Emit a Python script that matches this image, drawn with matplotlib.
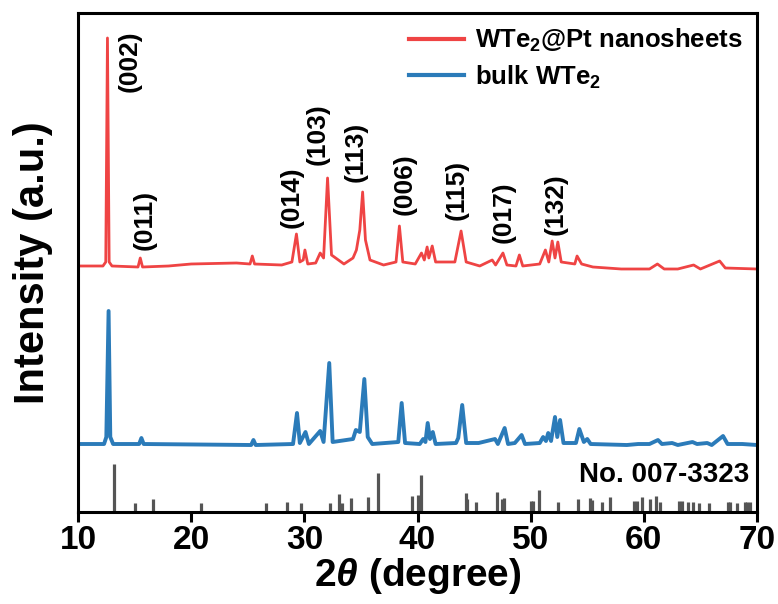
"""XRD patterns of WTe2@Pt nanosheets and bulk WTe2."""
import numpy as np
from matplotlib import pyplot as plt
from matplotlib import font_manager

# Pattern of WTe2@Pt nanosheets: 2theta (degree), intensity (a.u.)
pt_2theta = [10.0, 12.2, 12.45, 12.6, 12.75, 13.0, 15.3, 15.5, 15.7, 18.0,
             20.0, 24.0, 25.2, 25.4, 25.6, 28.0, 28.9, 29.3, 29.6, 29.9,
             30.05, 30.3, 31.0, 31.4, 31.7, 32.05, 32.4, 33.5, 34.3, 34.6,
             34.9, 35.15, 35.4, 35.8, 37.0, 38.1, 38.4, 38.7, 39.8, 40.35,
             40.6, 40.85, 41.0, 41.3, 41.6, 43.3, 43.85, 44.3, 45.5, 46.6,
             46.9, 47.55, 47.9, 48.7, 49.0, 49.3, 50.8, 51.3, 51.6, 51.9,
             52.15, 52.4, 52.7, 53.9, 54.1, 54.5, 55.5, 58.0, 60.5, 61.2,
             61.8, 63.0, 64.4, 65.0, 66.7, 67.2, 70.0]
pt_int = [4, 4, 8, 232, 8, 4, 3, 12, 3, 4,
          6, 7, 6, 14, 6, 5, 8, 36, 8, 10,
          20, 6, 7, 17, 12, 92, 15, 6, 12, 20,
          40, 78, 30, 10, 5, 8, 44, 8, 6, 17,
          10, 23, 12, 24, 8, 8, 39, 8, 4, 10,
          5, 17, 5, 4, 15, 4, 6, 20, 8, 29,
          12, 28, 8, 6, 14, 6, 3, 1, 1, 6,
          1, 1, 5, 1, 9, 2, 1]

# Pattern of bulk WTe2
bulk_2theta = [10.0, 12.3, 12.5, 12.7, 12.85, 13.1, 15.4, 15.6, 15.8, 25.3,
               25.5, 25.7, 29.0, 29.35, 29.6, 30.1, 30.4, 31.4, 31.7, 32.2,
               32.5, 34.3, 34.55, 34.9, 35.3, 35.6, 36.0, 38.3, 38.6, 38.9,
               40.2, 40.5, 40.7, 40.9, 41.1, 41.35, 41.6, 43.4, 43.6, 43.95,
               44.3, 45.4, 46.85, 47.1, 47.7, 48.0, 48.6, 49.2, 49.5, 50.8,
               51.1, 51.35, 51.55, 51.8, 52.15, 52.35, 52.6, 52.9, 54.0, 54.3,
               54.7, 55.0, 55.3, 58.5, 59.5, 60.5, 61.25, 61.6, 62.5, 63.0,
               64.3, 64.7, 65.6, 66.0, 67.0, 67.4, 68.7, 70.0]
bulk_int = [3, 3, 10, 136, 10, 3, 3, 9, 3, 2,
            7, 2, 3, 34, 4, 15, 3, 16, 5, 84,
            5, 8, 17, 15, 68, 10, 3, 5, 44, 4,
            3, 8, 5, 24, 8, 15, 3, 4, 9, 42,
            4, 4, 8, 3, 19, 3, 4, 12, 3, 4,
            10, 6, 14, 6, 30, 10, 27, 4, 4, 18,
            5, 8, 3, 2, 3, 3, 7, 3, 4, 2,
            5, 3, 4, 2, 11, 3, 3, 2]

# Standard card No. 007-3323
ref_2theta = [13.2, 15.0, 16.6, 20.9, 26.6, 28.5, 29.7, 32.3, 33.1, 33.3,
              34.1, 35.6, 36.5, 39.5, 40.05, 40.3, 44.3, 44.4, 45.15, 47.0,
              47.45, 47.65, 50.0, 50.2, 50.7, 52.4, 54.2, 55.2, 55.4, 56.3,
              57.0, 59.1, 59.4, 59.85, 60.55, 61.1, 61.4, 63.1, 63.4, 63.9,
              64.35, 64.9, 65.8, 67.45, 67.6, 68.2, 68.9, 69.1, 69.4]
ref_int = [48, 9, 13, 9, 9, 10, 9, 9, 18, 9,
           14, 15, 39, 16, 17, 37, 19, 13, 10, 20,
           13, 14, 11, 11, 22, 10, 13, 14, 12, 10,
           15, 11, 11, 15, 13, 16, 10, 11, 11, 10,
           10, 9, 9, 10, 10, 9, 10, 10, 10]

# Miller indices of the labelled peaks
hkl_labels = ['(002)', '(011)', '(014)', '(103)', '(113)', '(006)',
              '(115)', '(017)', '(132)']
hkl_2theta = [14.6, 15.9, 28.9, 31.2, 34.5, 38.9, 43.5, 47.6, 52.2]
hkl_bottom = [420, 262, 284, 347, 330, 297, 292, 269, 277]

pt_offset = 242
bulk_offset = 65

# font setup
try:
    font_manager.findfont('Liberation Sans Narrow', fallback_to_default=False)
    tick_family = 'Liberation Sans Narrow'
except Exception:
    tick_family = 'Liberation Sans'

plt.rcParams['font.family'] = ['Liberation Sans', 'DejaVu Sans']
plt.rcParams['font.weight'] = 'bold'
plt.rcParams['mathtext.fontset'] = 'custom'
plt.rcParams['mathtext.rm'] = 'Liberation Sans:bold'
plt.rcParams['mathtext.it'] = 'Liberation Sans:bold:italic'
plt.rcParams['mathtext.bf'] = 'Liberation Sans:bold'

fig = plt.figure(figsize=(7.78, 6.04), dpi=100)
ax = fig.add_axes([0.1003, 0.1523, 0.8727, 0.8262])

ax.plot(pt_2theta, np.array(pt_int) + pt_offset, color='#ef4444',
        linewidth=2.0, label=r'WTe$_2$@Pt nanosheets')
ax.plot(bulk_2theta, np.array(bulk_int) + bulk_offset, color='#2b7bb9',
        linewidth=2.8, label=r'bulk WTe$_2$')
ax.vlines(ref_2theta, 0, ref_int, color='#555555', linewidth=2.3)

for lab, x, yb in zip(hkl_labels, hkl_2theta, hkl_bottom):
    ax.text(x, yb, lab, rotation=90, ha='center', va='bottom',
            fontsize=19, fontweight='bold')

ax.text(69.3, 37, 'No. 007-3323', ha='right', va='center', fontsize=20,
        fontweight='bold')

ax.set_xlim(10, 70)
ax.set_ylim(0, 499)
ax.set_yticks([])
ax.set_xticks(np.arange(10, 71, 10))
for lbl in ax.get_xticklabels():
    lbl.set_family(tick_family)
    lbl.set_fontweight('bold')
    lbl.set_fontsize(24)
ax.tick_params(axis='x', direction='out', length=7, width=2.2, pad=2)
for sp in ax.spines.values():
    sp.set_linewidth(2.2)

ax.set_xlabel(r'2$\it{\theta}$ (degree)', fontsize=28, fontweight='bold',
              labelpad=0)
ax.set_ylabel('Intensity (a.u.)', fontsize=30, fontweight='bold',
              labelpad=18)

leg = ax.legend(loc='upper right', frameon=False, fontsize=18.5,
                handlelength=2.15, handletextpad=0.45, labelspacing=0.35,
                borderaxespad=0.15)
for line in leg.get_lines():
    line.set_linewidth(3)

fig.savefig('out.png', dpi=100)
